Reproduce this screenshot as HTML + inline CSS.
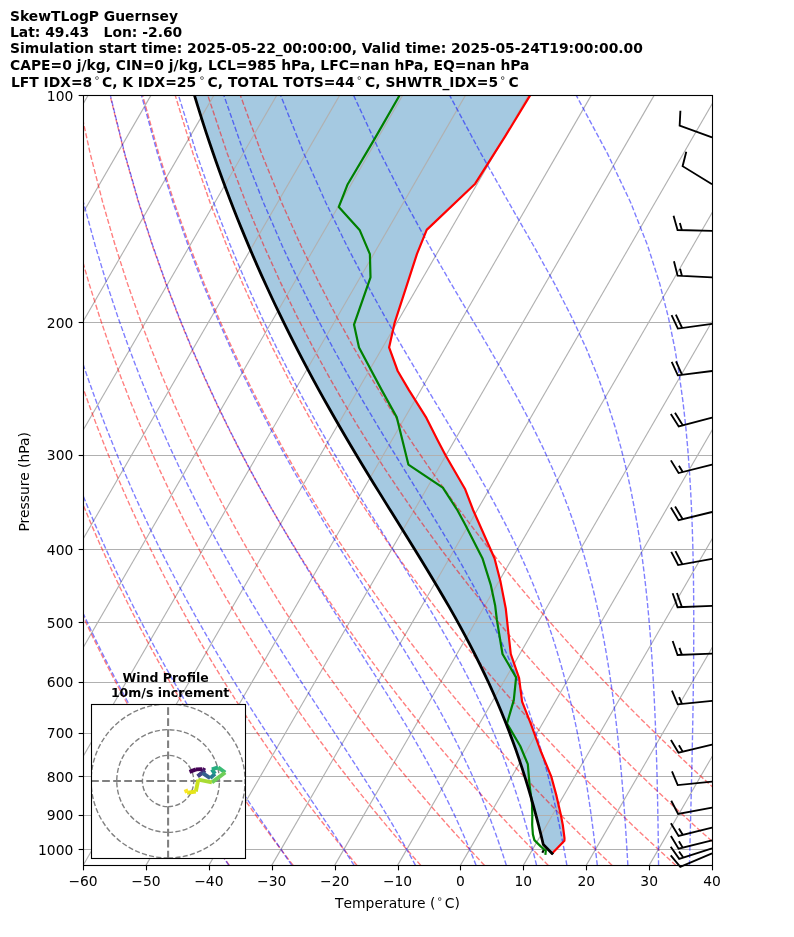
<!DOCTYPE html>
<html><head><meta charset="utf-8"><title>SkewTLogP Guernsey</title>
<style>
html,body{margin:0;padding:0;background:#fff;}
svg{display:block;}
text{font-family:"DejaVu Sans", "Liberation Sans", sans-serif;fill:#000;}
.b{font-weight:bold;}
</style></head><body>
<svg width="794" height="937" viewBox="0 0 794 937">
<rect x="0" y="0" width="794" height="937" fill="#fff"/>
<defs><clipPath id="ax"><rect x="83.5" y="95.5" width="629.0" height="770.0"/></clipPath>
<clipPath id="hd"><rect x="91.5" y="704.5" width="154" height="154"/></clipPath></defs>

<text class="b" x="10" y="20.80" font-size="13.889" xml:space="preserve">SkewTLogP Guernsey</text>
<text class="b" x="10" y="37.25" font-size="13.889" xml:space="preserve">Lat: 49.43   Lon: -2.60</text>
<text class="b" x="10" y="52.95" font-size="13.889" xml:space="preserve">Simulation start time: 2025-05-22_00:00:00, Valid time: 2025-05-24T19:00:00.00</text>
<text class="b" x="10" y="70.05" font-size="13.889" xml:space="preserve">CAPE=0 j/kg, CIN=0 j/kg, LCL=985 hPa, LFC=nan hPa, EQ=nan hPa</text>
<text class="b" font-size="13.889" style="font-kerning:none"><tspan x="10.90" y="86.60">LFT IDX=8</tspan><tspan x="102.00" y="86.60">C, K IDX=25</tspan><tspan x="207.60" y="86.60">C, TOTAL TOTS=44</tspan><tspan x="365.10" y="86.60">C, SHWTR_IDX=5</tspan><tspan x="508.40" y="86.60">C</tspan><tspan x="97.00" y="80.60" font-weight="normal" font-size="9.72" text-anchor="middle">∘</tspan><tspan x="202.00" y="80.60" font-weight="normal" font-size="9.72" text-anchor="middle">∘</tspan><tspan x="359.30" y="80.60" font-weight="normal" font-size="9.72" text-anchor="middle">∘</tspan><tspan x="502.80" y="80.60" font-weight="normal" font-size="9.72" text-anchor="middle">∘</tspan></text>
<g clip-path="url(#ax)">
<path d="M552.10 853.40 L543.28 844.47 L541.01 834.99 L538.65 825.51 L536.19 816.03 L533.63 806.55 L530.96 797.06 L528.17 787.58 L525.27 778.10 L522.25 768.62 L519.10 759.14 L515.82 749.65 L512.40 740.17 L508.85 730.69 L505.15 721.21 L501.31 711.73 L497.32 702.24 L493.18 692.76 L488.89 683.28 L484.46 673.80 L479.87 664.32 L475.14 654.83 L470.26 645.35 L465.25 635.87 L460.11 626.39 L454.85 616.91 L449.47 607.42 L443.98 597.94 L438.40 588.46 L432.74 578.98 L427.00 569.50 L421.21 560.02 L415.37 550.53 L409.49 541.05 L403.60 531.57 L397.69 522.09 L391.78 512.61 L385.88 503.12 L380.00 493.64 L374.15 484.16 L368.33 474.68 L362.56 465.20 L356.84 455.71 L351.17 446.23 L345.56 436.75 L340.02 427.27 L334.54 417.79 L329.14 408.30 L323.81 398.82 L318.55 389.34 L313.37 379.86 L308.27 370.38 L303.24 360.89 L298.30 351.41 L293.44 341.93 L288.66 332.45 L283.96 322.97 L279.33 313.48 L274.79 304.00 L270.34 294.52 L265.96 285.04 L261.66 275.56 L257.44 266.07 L253.30 256.59 L249.23 247.11 L245.25 237.63 L241.34 228.15 L237.51 218.67 L233.76 209.18 L230.08 199.70 L226.48 190.22 L222.96 180.74 L219.50 171.26 L216.12 161.77 L212.82 152.29 L209.58 142.81 L206.42 133.33 L203.33 123.85 L200.31 114.36 L197.36 104.88 L194.48 95.40 L530.00 95.50 L505.60 135.70 L475.20 183.70 L426.70 229.90 L416.90 254.10 L394.70 322.60 L389.10 347.40 L397.70 371.00 L408.80 389.90 L426.40 417.90 L437.90 440.80 L445.80 455.80 L465.20 489.30 L473.10 510.00 L494.50 558.20 L500.50 581.60 L505.80 608.80 L508.10 630.00 L510.80 654.00 L519.10 678.20 L522.10 701.60 L530.50 722.80 L540.30 750.00 L551.20 776.30 L556.50 795.90 L561.00 815.60 L562.80 825.00 L564.50 838.20 L564.40 840.70 L552.10 853.40Z" fill="#1f77b4" fill-opacity="0.4" stroke="none"/>
<g stroke="#b0b0b0" stroke-width="1.11" fill="none">
<path d="M-420.15 865.4 L25.13 95.4"/>
<path d="M-357.25 865.4 L88.03 95.4"/>
<path d="M-294.35 865.4 L150.93 95.4"/>
<path d="M-231.45 865.4 L213.83 95.4"/>
<path d="M-168.55 865.4 L276.73 95.4"/>
<path d="M-105.65 865.4 L339.63 95.4"/>
<path d="M-42.75 865.4 L402.53 95.4"/>
<path d="M20.15 865.4 L465.43 95.4"/>
<path d="M83.05 865.4 L528.33 95.4"/>
<path d="M145.95 865.4 L591.23 95.4"/>
<path d="M208.85 865.4 L654.13 95.4"/>
<path d="M271.75 865.4 L717.03 95.4"/>
<path d="M334.65 865.4 L779.93 95.4"/>
<path d="M397.55 865.4 L842.83 95.4"/>
<path d="M460.45 865.4 L905.73 95.4"/>
<path d="M523.35 865.4 L968.63 95.4"/>
<path d="M586.25 865.4 L1031.53 95.4"/>
<path d="M649.15 865.4 L1094.43 95.4"/>
<path d="M712.05 865.4 L1157.33 95.4"/>
<path d="M83.5 95.50 L712.5 95.50"/>
<path d="M83.5 322.50 L712.5 322.50"/>
<path d="M83.5 455.50 L712.5 455.50"/>
<path d="M83.5 549.50 L712.5 549.50"/>
<path d="M83.5 622.50 L712.5 622.50"/>
<path d="M83.5 682.50 L712.5 682.50"/>
<path d="M83.5 733.50 L712.5 733.50"/>
<path d="M83.5 776.50 L712.5 776.50"/>
<path d="M83.5 815.50 L712.5 815.50"/>
<path d="M83.5 849.50 L712.5 849.50"/>
</g>
<g stroke="#ff0000" stroke-opacity="0.5" stroke-width="1.39" fill="none" stroke-dasharray="5.14 2.22">
<path d="M229.44 865.40 L225.07 859.30 L220.66 853.08 L216.21 846.74 L211.72 840.27 L207.19 833.68 L202.61 826.95 L197.99 820.08 L193.32 813.06 L188.60 805.89 L183.84 798.55 L179.03 791.05 L174.16 783.38 L169.25 775.51 L164.27 767.46 L159.25 759.20 L154.17 750.73 L149.02 742.03 L143.82 733.10 L138.56 723.92 L133.23 714.47 L127.84 704.74 L122.38 694.71 L116.85 684.36 L111.24 673.68 L105.57 662.64 L99.81 651.21 L93.98 639.37 L88.07 627.08 L82.07 614.32 L75.99 601.04 L69.82 587.19 L63.56 572.74 L57.20 557.62 L50.75 541.76 L44.20 525.10 L37.56 507.54 L30.81 488.99 L23.97 469.33 L17.03 448.41 L9.99 426.06 L2.87 402.07 L-4.32 376.19 L-11.58 348.08 L-18.86 317.33 L-26.13 283.40 L-33.32 245.53 L-40.31 202.71 L-46.92 153.43 L-52.81 95.40"/>
<path d="M293.22 865.40 L288.51 859.30 L283.76 853.08 L278.96 846.74 L274.12 840.27 L269.23 833.68 L264.29 826.95 L259.30 820.08 L254.26 813.06 L249.16 805.89 L244.01 798.55 L238.80 791.05 L233.54 783.38 L228.22 775.51 L222.83 767.46 L217.39 759.20 L211.88 750.73 L206.30 742.03 L200.65 733.10 L194.93 723.92 L189.14 714.47 L183.28 704.74 L177.33 694.71 L171.31 684.36 L165.20 673.68 L159.01 662.64 L152.72 651.21 L146.35 639.37 L139.88 627.08 L133.31 614.32 L126.63 601.04 L119.85 587.19 L112.97 572.74 L105.96 557.62 L98.84 541.76 L91.60 525.10 L84.24 507.54 L76.74 488.99 L69.12 469.33 L61.36 448.41 L53.47 426.06 L45.45 402.07 L37.30 376.19 L29.04 348.08 L20.68 317.33 L12.25 283.40 L3.82 245.53 L-4.54 202.71 L-12.65 153.43 L-20.23 95.40"/>
<path d="M357.00 865.40 L351.96 859.30 L346.86 853.08 L341.72 846.74 L336.52 840.27 L331.27 833.68 L325.97 826.95 L320.61 820.08 L315.19 813.06 L309.72 805.89 L304.18 798.55 L298.58 791.05 L292.92 783.38 L287.19 775.51 L281.39 767.46 L275.53 759.20 L269.59 750.73 L263.57 742.03 L257.48 733.10 L251.31 723.92 L245.06 714.47 L238.72 704.74 L232.29 694.71 L225.77 684.36 L219.16 673.68 L212.45 662.64 L205.63 651.21 L198.71 639.37 L191.69 627.08 L184.54 614.32 L177.28 601.04 L169.89 587.19 L162.38 572.74 L154.73 557.62 L146.94 541.76 L139.00 525.10 L130.91 507.54 L122.67 488.99 L114.26 469.33 L105.69 448.41 L96.94 426.06 L88.02 402.07 L78.92 376.19 L69.65 348.08 L60.22 317.33 L50.64 283.40 L40.95 245.53 L31.24 202.71 L21.62 153.43 L12.35 95.40"/>
<path d="M420.79 865.40 L415.40 859.30 L409.96 853.08 L404.47 846.74 L398.92 840.27 L393.31 833.68 L387.65 826.95 L381.92 820.08 L376.13 813.06 L370.27 805.89 L364.35 798.55 L358.36 791.05 L352.30 783.38 L346.16 775.51 L339.95 767.46 L333.66 759.20 L327.30 750.73 L320.85 742.03 L314.31 733.10 L307.69 723.92 L300.97 714.47 L294.16 704.74 L287.25 694.71 L280.24 684.36 L273.12 673.68 L265.89 662.64 L258.55 651.21 L251.08 639.37 L243.49 627.08 L235.78 614.32 L227.92 601.04 L219.93 587.19 L211.78 572.74 L203.49 557.62 L195.03 541.76 L186.40 525.10 L177.59 507.54 L168.60 488.99 L159.41 469.33 L150.02 448.41 L140.42 426.06 L130.59 402.07 L120.54 376.19 L110.26 348.08 L99.75 317.33 L89.02 283.40 L78.09 245.53 L67.02 202.71 L55.89 153.43 L44.93 95.40"/>
<path d="M484.57 865.40 L478.85 859.30 L473.06 853.08 L467.22 846.74 L461.32 840.27 L455.35 833.68 L449.32 826.95 L443.23 820.08 L437.06 813.06 L430.83 805.89 L424.52 798.55 L418.13 791.05 L411.67 783.38 L405.13 775.51 L398.51 767.46 L391.80 759.20 L385.01 750.73 L378.12 742.03 L371.14 733.10 L364.06 723.92 L356.88 714.47 L349.60 704.74 L342.21 694.71 L334.70 684.36 L327.08 673.68 L319.33 662.64 L311.46 651.21 L303.45 639.37 L295.30 627.08 L287.01 614.32 L278.57 601.04 L269.96 587.19 L261.19 572.74 L252.25 557.62 L243.12 541.76 L233.80 525.10 L224.27 507.54 L214.53 488.99 L204.56 469.33 L194.35 448.41 L183.89 426.06 L173.17 402.07 L162.17 376.19 L150.88 348.08 L139.29 317.33 L127.41 283.40 L115.23 245.53 L102.79 202.71 L90.16 153.43 L77.50 95.40"/>
<path d="M548.35 865.40 L542.29 859.30 L536.16 853.08 L529.98 846.74 L523.72 840.27 L517.40 833.68 L511.00 826.95 L504.54 820.08 L498.00 813.06 L491.38 805.89 L484.69 798.55 L477.91 791.05 L471.05 783.38 L464.11 775.51 L457.07 767.46 L449.94 759.20 L442.72 750.73 L435.39 742.03 L427.97 733.10 L420.44 723.92 L412.80 714.47 L405.04 704.74 L397.16 694.71 L389.16 684.36 L381.03 673.68 L372.77 662.64 L364.37 651.21 L355.82 639.37 L347.11 627.08 L338.25 614.32 L329.21 601.04 L320.00 587.19 L310.60 572.74 L301.01 557.62 L291.21 541.76 L281.19 525.10 L270.95 507.54 L260.45 488.99 L249.70 469.33 L238.68 448.41 L227.36 426.06 L215.74 402.07 L203.79 376.19 L191.49 348.08 L178.83 317.33 L165.79 283.40 L152.37 245.53 L138.57 202.71 L124.43 153.43 L110.08 95.40"/>
<path d="M612.13 865.40 L605.73 859.30 L599.27 853.08 L592.73 846.74 L586.12 840.27 L579.44 833.68 L572.68 826.95 L565.85 820.08 L558.93 813.06 L551.94 805.89 L544.86 798.55 L537.69 791.05 L530.43 783.38 L523.08 775.51 L515.63 767.46 L508.08 759.20 L500.43 750.73 L492.67 742.03 L484.80 733.10 L476.81 723.92 L468.71 714.47 L460.48 704.74 L452.12 694.71 L443.63 684.36 L434.99 673.68 L426.21 662.64 L417.28 651.21 L408.18 639.37 L398.92 627.08 L389.48 614.32 L379.86 601.04 L370.04 587.19 L360.01 572.74 L349.77 557.62 L339.30 541.76 L328.59 525.10 L317.62 507.54 L306.38 488.99 L294.85 469.33 L283.01 448.41 L270.84 426.06 L258.32 402.07 L245.41 376.19 L232.11 348.08 L218.37 317.33 L204.18 283.40 L189.51 245.53 L174.34 202.71 L158.70 153.43 L142.66 95.40"/>
<path d="M675.92 865.40 L669.18 859.30 L662.37 853.08 L655.48 846.74 L648.52 840.27 L641.48 833.68 L634.36 826.95 L627.16 820.08 L619.87 813.06 L612.49 805.89 L605.03 798.55 L597.46 791.05 L589.81 783.38 L582.05 775.51 L574.19 767.46 L566.22 759.20 L558.14 750.73 L549.94 742.03 L541.63 733.10 L533.19 723.92 L524.62 714.47 L515.92 704.74 L507.08 694.71 L498.09 684.36 L488.95 673.68 L479.65 662.64 L470.19 651.21 L460.55 639.37 L450.73 627.08 L440.72 614.32 L430.50 601.04 L420.07 587.19 L409.42 572.74 L398.53 557.62 L387.39 541.76 L375.99 525.10 L364.30 507.54 L352.31 488.99 L340.00 469.33 L327.34 448.41 L314.31 426.06 L300.89 402.07 L287.04 376.19 L272.72 348.08 L257.91 317.33 L242.57 283.40 L226.65 245.53 L210.12 202.71 L192.98 153.43 L175.24 95.40"/>
<path d="M739.70 865.40 L732.62 859.30 L725.47 853.08 L718.23 846.74 L710.92 840.27 L703.52 833.68 L696.04 826.95 L688.47 820.08 L680.81 813.06 L673.05 805.89 L665.20 798.55 L657.24 791.05 L649.18 783.38 L641.02 775.51 L632.75 767.46 L624.36 759.20 L615.85 750.73 L607.22 742.03 L598.46 733.10 L589.57 723.92 L580.54 714.47 L571.36 704.74 L562.04 694.71 L552.55 684.36 L542.91 673.68 L533.09 662.64 L523.10 651.21 L512.92 639.37 L502.54 627.08 L491.95 614.32 L481.15 601.04 L470.11 587.19 L458.83 572.74 L447.30 557.62 L435.49 541.76 L423.39 525.10 L410.98 507.54 L398.24 488.99 L385.14 469.33 L371.67 448.41 L357.79 426.06 L343.46 402.07 L328.66 376.19 L313.34 348.08 L297.45 317.33 L280.95 283.40 L263.79 245.53 L245.90 202.71 L227.25 153.43 L207.82 95.40"/>
<path d="M803.48 865.40 L796.07 859.30 L788.57 853.08 L780.99 846.74 L773.32 840.27 L765.56 833.68 L757.72 826.95 L749.78 820.08 L741.74 813.06 L733.60 805.89 L725.36 798.55 L717.02 791.05 L708.56 783.38 L699.99 775.51 L691.31 767.46 L682.50 759.20 L673.56 750.73 L664.49 742.03 L655.29 733.10 L645.94 723.92 L636.45 714.47 L626.80 704.74 L616.99 694.71 L607.02 684.36 L596.87 673.68 L586.53 662.64 L576.01 651.21 L565.28 639.37 L554.35 627.08 L543.19 614.32 L531.79 601.04 L520.15 587.19 L508.24 572.74 L496.06 557.62 L483.58 541.76 L470.78 525.10 L457.65 507.54 L444.17 488.99 L430.29 469.33 L416.00 448.41 L401.26 426.06 L386.04 402.07 L370.28 376.19 L353.95 348.08 L336.99 317.33 L319.34 283.40 L300.92 245.53 L281.67 202.71 L261.52 153.43 L240.40 95.40"/>
</g>
<g stroke="#0000ff" stroke-opacity="0.5" stroke-width="1.39" fill="none" stroke-dasharray="5.14 2.22">
<path d="M228.87 865.40 L224.74 859.30 L220.54 853.08 L216.29 846.74 L211.98 840.27 L207.61 833.68 L203.18 826.95 L198.70 820.08 L194.15 813.06 L189.54 805.89 L184.87 798.55 L180.14 791.05 L175.35 783.38 L170.50 775.51 L165.58 767.46 L160.61 759.20 L155.56 750.73 L150.45 742.03 L145.28 733.10 L140.03 723.92 L134.72 714.47 L129.34 704.74 L123.88 694.71 L118.35 684.36 L112.75 673.68 L107.07 662.64 L101.31 651.21 L95.47 639.37 L89.55 627.08 L83.54 614.32 L77.44 601.04 L71.25 587.19 L64.98 572.74 L58.60 557.62 L52.14 541.76 L45.57 525.10 L38.90 507.54 L32.14 488.99 L25.27 469.33 L18.31 448.41 L11.25 426.06 L4.10 402.07 L-3.12 376.19 L-10.41 348.08 L-17.72 317.33 L-25.03 283.40 L-32.25 245.53 L-39.28 202.71 L-45.93 153.43 L-51.87 95.40"/>
<path d="M291.85 865.40 L287.71 859.30 L283.48 853.08 L279.16 846.74 L274.77 840.27 L270.29 833.68 L265.74 826.95 L261.09 820.08 L256.37 813.06 L251.56 805.89 L246.67 798.55 L241.70 791.05 L236.64 783.38 L231.50 775.51 L226.28 767.46 L220.97 759.20 L215.57 750.73 L210.10 742.03 L204.53 733.10 L198.88 723.92 L193.14 714.47 L187.31 704.74 L181.40 694.71 L175.39 684.36 L169.28 673.68 L163.09 662.64 L156.79 651.21 L150.40 639.37 L143.90 627.08 L137.31 614.32 L130.60 601.04 L123.78 587.19 L116.85 572.74 L109.80 557.62 L102.63 541.76 L95.34 525.10 L87.92 507.54 L80.37 488.99 L72.68 469.33 L64.86 448.41 L56.90 426.06 L48.81 402.07 L40.59 376.19 L32.24 348.08 L23.80 317.33 L15.28 283.40 L6.75 245.53 L-1.71 202.71 L-9.94 153.43 L-17.66 95.40"/>
<path d="M354.12 865.40 L350.23 859.30 L346.25 853.08 L342.15 846.74 L337.94 840.27 L333.62 833.68 L329.19 826.95 L324.64 820.08 L319.98 813.06 L315.20 805.89 L310.30 798.55 L305.29 791.05 L300.15 783.38 L294.90 775.51 L289.53 767.46 L284.04 759.20 L278.43 750.73 L272.70 742.03 L266.85 733.10 L260.88 723.92 L254.79 714.47 L248.59 704.74 L242.26 694.71 L235.81 684.36 L229.24 673.68 L222.55 662.64 L215.73 651.21 L208.79 639.37 L201.72 627.08 L194.51 614.32 L187.18 601.04 L179.71 587.19 L172.09 572.74 L164.33 557.62 L156.43 541.76 L148.37 525.10 L140.14 507.54 L131.76 488.99 L123.20 469.33 L114.47 448.41 L105.55 426.06 L96.45 402.07 L87.17 376.19 L77.69 348.08 L68.05 317.33 L58.24 283.40 L48.31 245.53 L38.33 202.71 L28.41 153.43 L18.80 95.40"/>
<path d="M415.49 865.40 L412.21 859.30 L408.81 853.08 L405.29 846.74 L401.64 840.27 L397.86 833.68 L393.94 826.95 L389.88 820.08 L385.67 813.06 L381.31 805.89 L376.80 798.55 L372.13 791.05 L367.29 783.38 L362.30 775.51 L357.13 767.46 L351.80 759.20 L346.29 750.73 L340.61 742.03 L334.75 733.10 L328.72 723.92 L322.52 714.47 L316.13 704.74 L309.58 694.71 L302.84 684.36 L295.93 673.68 L288.84 662.64 L281.58 651.21 L274.14 639.37 L266.53 627.08 L258.74 614.32 L250.77 601.04 L242.62 587.19 L234.28 572.74 L225.77 557.62 L217.06 541.76 L208.15 525.10 L199.05 507.54 L189.73 488.99 L180.20 469.33 L170.44 448.41 L160.45 426.06 L150.22 402.07 L139.73 376.19 L128.99 348.08 L117.98 317.33 L106.72 283.40 L95.21 245.53 L83.51 202.71 L71.69 153.43 L59.95 95.40"/>
<path d="M476.14 865.40 L473.72 859.30 L471.20 853.08 L468.57 846.74 L465.82 840.27 L462.95 833.68 L459.94 826.95 L456.80 820.08 L453.52 813.06 L450.08 805.89 L446.48 798.55 L442.71 791.05 L438.76 783.38 L434.62 775.51 L430.28 767.46 L425.73 759.20 L420.97 750.73 L415.97 742.03 L410.75 733.10 L405.28 723.92 L399.56 714.47 L393.58 704.74 L387.34 694.71 L380.83 684.36 L374.04 673.68 L366.98 662.64 L359.64 651.21 L352.02 639.37 L344.12 627.08 L335.95 614.32 L327.50 601.04 L318.77 587.19 L309.77 572.74 L300.49 557.62 L290.94 541.76 L281.11 525.10 L271.01 507.54 L260.62 488.99 L249.94 469.33 L238.97 448.41 L227.68 426.06 L216.07 402.07 L204.13 376.19 L191.83 348.08 L179.17 317.33 L166.12 283.40 L152.69 245.53 L138.87 202.71 L124.73 153.43 L110.36 95.40"/>
<path d="M506.35 865.40 L504.40 859.30 L502.36 853.08 L500.23 846.74 L498.00 840.27 L495.66 833.68 L493.22 826.95 L490.65 820.08 L487.95 813.06 L485.12 805.89 L482.14 798.55 L479.01 791.05 L475.70 783.38 L472.22 775.51 L468.56 767.46 L464.68 759.20 L460.60 750.73 L456.28 742.03 L451.72 733.10 L446.91 723.92 L441.82 714.47 L436.45 704.74 L430.78 694.71 L424.80 684.36 L418.49 673.68 L411.84 662.64 L404.85 651.21 L397.51 639.37 L389.80 627.08 L381.73 614.32 L373.30 601.04 L364.50 587.19 L355.34 572.74 L345.81 557.62 L335.93 541.76 L325.69 525.10 L315.09 507.54 L304.13 488.99 L292.82 469.33 L281.15 448.41 L269.10 426.06 L256.67 402.07 L243.84 376.19 L230.60 348.08 L216.91 317.33 L202.77 283.40 L188.14 245.53 L173.03 202.71 L157.45 153.43 L141.47 95.40"/>
<path d="M536.58 865.40 L535.08 859.30 L533.53 853.08 L531.89 846.74 L530.18 840.27 L528.39 833.68 L526.51 826.95 L524.53 820.08 L522.45 813.06 L520.25 805.89 L517.94 798.55 L515.50 791.05 L512.92 783.38 L510.19 775.51 L507.30 767.46 L504.24 759.20 L500.98 750.73 L497.52 742.03 L493.84 733.10 L489.92 723.92 L485.74 714.47 L481.28 704.74 L476.52 694.71 L471.44 684.36 L466.02 673.68 L460.23 662.64 L454.04 651.21 L447.44 639.37 L440.40 627.08 L432.91 614.32 L424.95 601.04 L416.51 587.19 L407.57 572.74 L398.13 557.62 L388.20 541.76 L377.76 525.10 L366.84 507.54 L355.42 488.99 L343.52 469.33 L331.15 448.41 L318.29 426.06 L304.95 402.07 L291.11 376.19 L276.76 348.08 L261.88 317.33 L246.44 283.40 L230.40 245.53 L213.74 202.71 L196.45 153.43 L178.54 95.40"/>
<path d="M566.88 865.40 L565.82 859.30 L564.71 853.08 L563.54 846.74 L562.32 840.27 L561.05 833.68 L559.70 826.95 L558.29 820.08 L556.80 813.06 L555.23 805.89 L553.57 798.55 L551.81 791.05 L549.96 783.38 L547.99 775.51 L545.89 767.46 L543.67 759.20 L541.29 750.73 L538.76 742.03 L536.05 733.10 L533.15 723.92 L530.04 714.47 L526.70 704.74 L523.10 694.71 L519.22 684.36 L515.03 673.68 L510.51 662.64 L505.61 651.21 L500.30 639.37 L494.54 627.08 L488.29 614.32 L481.52 601.04 L474.17 587.19 L466.22 572.74 L457.62 557.62 L448.34 541.76 L438.36 525.10 L427.67 507.54 L416.26 488.99 L404.14 469.33 L391.30 448.41 L377.76 426.06 L363.54 402.07 L348.64 376.19 L333.06 348.08 L316.78 317.33 L299.79 283.40 L282.05 245.53 L263.51 202.71 L244.12 153.43 L223.86 95.40"/>
<path d="M597.30 865.40 L596.62 859.30 L595.91 853.08 L595.17 846.74 L594.39 840.27 L593.58 833.68 L592.72 826.95 L591.81 820.08 L590.86 813.06 L589.85 805.89 L588.78 798.55 L587.65 791.05 L586.46 783.38 L585.18 775.51 L583.83 767.46 L582.38 759.20 L580.84 750.73 L579.19 742.03 L577.42 733.10 L575.51 723.92 L573.46 714.47 L571.25 704.74 L568.85 694.71 L566.25 684.36 L563.43 673.68 L560.35 662.64 L556.98 651.21 L553.29 639.37 L549.24 627.08 L544.77 614.32 L539.85 601.04 L534.39 587.19 L528.35 572.74 L521.64 557.62 L514.19 541.76 L505.92 525.10 L496.74 507.54 L486.58 488.99 L475.38 469.33 L463.10 448.41 L449.70 426.06 L435.19 402.07 L419.59 376.19 L402.92 348.08 L385.21 317.33 L366.47 283.40 L346.69 245.53 L325.84 202.71 L303.86 153.43 L280.66 95.40"/>
<path d="M627.86 865.40 L627.52 859.30 L627.16 853.08 L626.78 846.74 L626.38 840.27 L625.96 833.68 L625.51 826.95 L625.04 820.08 L624.54 813.06 L624.02 805.89 L623.46 798.55 L622.86 791.05 L622.23 783.38 L621.55 775.51 L620.83 767.46 L620.05 759.20 L619.22 750.73 L618.33 742.03 L617.36 733.10 L616.32 723.92 L615.20 714.47 L613.97 704.74 L612.64 694.71 L611.19 684.36 L609.59 673.68 L607.85 662.64 L605.92 651.21 L603.80 639.37 L601.44 627.08 L598.82 614.32 L595.88 601.04 L592.59 587.19 L588.89 572.74 L584.69 557.62 L579.93 541.76 L574.49 525.10 L568.25 507.54 L561.09 488.99 L552.83 469.33 L543.30 448.41 L532.32 426.06 L519.71 402.07 L505.32 376.19 L489.07 348.08 L470.93 317.33 L450.94 283.40 L429.18 245.53 L405.71 202.71 L380.55 153.43 L353.63 95.40"/>
<path d="M658.57 865.40 L658.51 859.30 L658.43 853.08 L658.36 846.74 L658.27 840.27 L658.18 833.68 L658.07 826.95 L657.96 820.08 L657.84 813.06 L657.71 805.89 L657.56 798.55 L657.40 791.05 L657.22 783.38 L657.03 775.51 L656.82 767.46 L656.58 759.20 L656.32 750.73 L656.04 742.03 L655.72 733.10 L655.37 723.92 L654.98 714.47 L654.54 704.74 L654.06 694.71 L653.52 684.36 L652.91 673.68 L652.23 662.64 L651.47 651.21 L650.60 639.37 L649.62 627.08 L648.51 614.32 L647.24 601.04 L645.79 587.19 L644.12 572.74 L642.20 557.62 L639.96 541.76 L637.35 525.10 L634.27 507.54 L630.64 488.99 L626.31 469.33 L621.10 448.41 L614.81 426.06 L607.13 402.07 L597.70 376.19 L586.09 348.08 L571.81 317.33 L554.37 283.40 L533.42 245.53 L508.88 202.71 L480.88 153.43 L449.66 95.40"/>
<path d="M689.43 865.40 L689.59 859.30 L689.75 853.08 L689.91 846.74 L690.07 840.27 L690.24 833.68 L690.41 826.95 L690.59 820.08 L690.76 813.06 L690.94 805.89 L691.12 798.55 L691.30 791.05 L691.48 783.38 L691.67 775.51 L691.85 767.46 L692.03 759.20 L692.21 750.73 L692.39 742.03 L692.57 733.10 L692.74 723.92 L692.91 714.47 L693.07 704.74 L693.22 694.71 L693.36 684.36 L693.48 673.68 L693.59 662.64 L693.68 651.21 L693.74 639.37 L693.76 627.08 L693.75 614.32 L693.69 601.04 L693.57 587.19 L693.38 572.74 L693.09 557.62 L692.70 541.76 L692.17 525.10 L691.46 507.54 L690.53 488.99 L689.32 469.33 L687.74 448.41 L685.69 426.06 L683.01 402.07 L679.46 376.19 L674.75 348.08 L668.38 317.33 L659.67 283.40 L647.60 245.53 L630.73 202.71 L607.38 153.43 L576.26 95.40"/>
<path d="M720.41 865.40 L720.74 859.30 L721.09 853.08 L721.44 846.74 L721.80 840.27 L722.17 833.68 L722.56 826.95 L722.95 820.08 L723.35 813.06 L723.77 805.89 L724.20 798.55 L724.64 791.05 L725.09 783.38 L725.56 775.51 L726.04 767.46 L726.54 759.20 L727.05 750.73 L727.57 742.03 L728.12 733.10 L728.67 723.92 L729.25 714.47 L729.84 704.74 L730.45 694.71 L731.08 684.36 L731.73 673.68 L732.39 662.64 L733.08 651.21 L733.78 639.37 L734.51 627.08 L735.25 614.32 L736.01 601.04 L736.80 587.19 L737.59 572.74 L738.40 557.62 L739.22 541.76 L740.04 525.10 L740.86 507.54 L741.66 488.99 L742.44 469.33 L743.16 448.41 L743.81 426.06 L744.32 402.07 L744.64 376.19 L744.67 348.08 L744.24 317.33 L743.09 283.40 L740.80 245.53 L736.59 202.71 L729.03 153.43 L715.33 95.40"/>
<path d="M751.50 865.40 L751.97 859.30 L752.45 853.08 L752.95 846.74 L753.46 840.27 L753.99 833.68 L754.53 826.95 L755.09 820.08 L755.66 813.06 L756.26 805.89 L756.87 798.55 L757.50 791.05 L758.16 783.38 L758.83 775.51 L759.53 767.46 L760.26 759.20 L761.01 750.73 L761.78 742.03 L762.58 733.10 L763.42 723.92 L764.28 714.47 L765.18 704.74 L766.12 694.71 L767.09 684.36 L768.10 673.68 L769.15 662.64 L770.25 651.21 L771.40 639.37 L772.59 627.08 L773.85 614.32 L775.16 601.04 L776.53 587.19 L777.97 572.74 L779.49 557.62 L781.08 541.76 L782.76 525.10 L784.52 507.54 L786.39 488.99 L788.37 469.33 L790.46 448.41 L792.67 426.06 L795.01 402.07 L797.49 376.19 L800.12 348.08 L802.88 317.33 L805.75 283.40 L808.69 245.53 L811.58 202.71 L814.15 153.43 L815.76 95.40"/>
<path d="M782.70 865.40 L783.26 859.30 L783.84 853.08 L784.44 846.74 L785.06 840.27 L785.70 833.68 L786.36 826.95 L787.03 820.08 L787.73 813.06 L788.45 805.89 L789.20 798.55 L789.97 791.05 L790.77 783.38 L791.59 775.51 L792.45 767.46 L793.33 759.20 L794.25 750.73 L795.20 742.03 L796.18 733.10 L797.21 723.92 L798.28 714.47 L799.39 704.74 L800.54 694.71 L801.75 684.36 L803.01 673.68 L804.32 662.64 L805.70 651.21 L807.14 639.37 L808.65 627.08 L810.24 614.32 L811.91 601.04 L813.67 587.19 L815.53 572.74 L817.49 557.62 L819.57 541.76 L821.79 525.10 L824.14 507.54 L826.66 488.99 L829.36 469.33 L832.25 448.41 L835.38 426.06 L838.77 402.07 L842.46 376.19 L846.49 348.08 L850.94 317.33 L855.86 283.40 L861.37 245.53 L867.58 202.71 L874.65 153.43 L882.77 95.40"/>
</g>
<path d="M544.0 849.6 L542.3 852.8" stroke="#000" stroke-width="2.08" fill="none"/>
<path d="M552.10 853.40 L564.40 840.70 L564.50 838.20 L562.80 825.00 L561.00 815.60 L556.50 795.90 L551.20 776.30 L540.30 750.00 L530.50 722.80 L522.10 701.60 L519.10 678.20 L510.80 654.00 L508.10 630.00 L505.80 608.80 L500.50 581.60 L494.50 558.20 L473.10 510.00 L465.20 489.30 L445.80 455.80 L437.90 440.80 L426.40 417.90 L408.80 389.90 L397.70 371.00 L389.10 347.40 L394.70 322.60 L416.90 254.10 L426.70 229.90 L475.20 183.70 L505.60 135.70 L530.00 95.50" stroke="#ff0000" stroke-width="2.2" fill="none" stroke-linejoin="round" stroke-linecap="square"/>
<path d="M545.50 853.70 L545.80 850.80 L540.70 846.40 L534.40 840.10 L532.90 834.40 L532.20 825.00 L532.30 815.60 L532.00 803.50 L529.60 785.30 L527.80 764.20 L520.20 746.00 L507.00 723.50 L513.80 700.10 L516.10 677.40 L502.50 654.00 L496.90 620.00 L495.20 605.80 L490.70 584.60 L482.40 558.20 L465.00 524.20 L457.30 510.00 L442.80 487.60 L408.40 464.60 L396.80 417.40 L381.60 389.90 L359.00 347.40 L354.00 324.60 L370.50 277.30 L369.90 254.10 L359.60 229.90 L338.80 206.90 L347.70 184.20 L374.00 139.90 L399.50 95.50" stroke="#008000" stroke-width="2.2" fill="none" stroke-linejoin="round" stroke-linecap="square"/>
<path d="M552.10 853.40 L543.28 844.47 L541.01 834.99 L538.65 825.51 L536.19 816.03 L533.63 806.55 L530.96 797.06 L528.17 787.58 L525.27 778.10 L522.25 768.62 L519.10 759.14 L515.82 749.65 L512.40 740.17 L508.85 730.69 L505.15 721.21 L501.31 711.73 L497.32 702.24 L493.18 692.76 L488.89 683.28 L484.46 673.80 L479.87 664.32 L475.14 654.83 L470.26 645.35 L465.25 635.87 L460.11 626.39 L454.85 616.91 L449.47 607.42 L443.98 597.94 L438.40 588.46 L432.74 578.98 L427.00 569.50 L421.21 560.02 L415.37 550.53 L409.49 541.05 L403.60 531.57 L397.69 522.09 L391.78 512.61 L385.88 503.12 L380.00 493.64 L374.15 484.16 L368.33 474.68 L362.56 465.20 L356.84 455.71 L351.17 446.23 L345.56 436.75 L340.02 427.27 L334.54 417.79 L329.14 408.30 L323.81 398.82 L318.55 389.34 L313.37 379.86 L308.27 370.38 L303.24 360.89 L298.30 351.41 L293.44 341.93 L288.66 332.45 L283.96 322.97 L279.33 313.48 L274.79 304.00 L270.34 294.52 L265.96 285.04 L261.66 275.56 L257.44 266.07 L253.30 256.59 L249.23 247.11 L245.25 237.63 L241.34 228.15 L237.51 218.67 L233.76 209.18 L230.08 199.70 L226.48 190.22 L222.96 180.74 L219.50 171.26 L216.12 161.77 L212.82 152.29 L209.58 142.81 L206.42 133.33 L203.33 123.85 L200.31 114.36 L197.36 104.88 L194.48 95.40" stroke="#000" stroke-width="2.78" fill="none" stroke-linejoin="round" stroke-linecap="square"/>
</g>
<g stroke="#000" stroke-width="1.85" fill="none" stroke-linejoin="miter" stroke-miterlimit="10">
<path d="M712.05 137.40 L679.65 125.55 L680.40 110.76"/>
<path d="M712.05 184.20 L682.62 166.19 L686.27 151.84"/>
<path d="M712.05 230.90 L677.56 230.01 L673.54 215.76 M681.87 230.12 L679.86 223.00"/>
<path d="M712.05 277.40 L677.60 275.63 L673.95 261.28 M681.90 275.85 L680.08 268.67"/>
<path d="M712.05 323.80 L677.88 328.60 L671.58 315.20 M682.16 328.00 L675.85 314.60"/>
<path d="M712.05 371.00 L677.82 375.30 L671.71 361.82 M682.10 374.77 L675.99 361.28"/>
<path d="M712.05 417.60 L678.72 426.51 L670.83 413.97 M682.89 425.39 L675.00 412.86"/>
<path d="M712.05 464.60 L678.60 473.04 L670.89 460.39 M682.78 471.98 L678.93 465.66"/>
<path d="M712.05 512.00 L678.55 520.25 L670.91 507.56 M682.74 519.22 L675.10 506.53"/>
<path d="M712.05 558.80 L678.12 565.05 L671.25 551.93 M682.36 564.27 L675.49 551.15"/>
<path d="M712.05 605.80 L677.58 607.18 L672.63 593.22 M681.89 607.01 L676.94 593.05"/>
<path d="M712.05 653.70 L677.57 654.98 L672.67 641.01 M681.88 654.82 L679.43 647.83"/>
<path d="M712.05 700.90 L677.72 704.31 L671.96 690.67 M682.01 703.89 L679.13 697.07"/>
<path d="M712.05 744.60 L678.50 752.66 L670.94 739.93 M682.70 751.65 L678.92 745.29"/>
<path d="M712.05 781.70 L677.72 785.11 L671.96 771.47"/>
<path d="M712.05 807.60 L678.12 813.86 L671.25 800.74"/>
<path d="M712.05 827.60 L678.56 835.87 L670.91 823.19 M682.74 834.84 L678.92 828.50"/>
<path d="M712.05 840.40 L678.56 848.67 L670.91 835.99 M682.74 847.64 L678.92 841.30"/>
<path d="M712.05 848.40 L679.18 858.89 L670.71 846.75 M683.29 857.58 L679.05 851.51"/>
<path d="M712.05 853.30 L680.28 866.76 L670.73 855.44"/>
</g>
<rect x="83.5" y="95.5" width="629.0" height="770.0" fill="none" stroke="#000" stroke-width="1.11"/>
<g stroke="#000" stroke-width="1.11">
<path d="M78.64 95.50 L83.5 95.50"/>
<path d="M78.64 322.50 L83.5 322.50"/>
<path d="M78.64 455.50 L83.5 455.50"/>
<path d="M78.64 549.50 L83.5 549.50"/>
<path d="M78.64 622.50 L83.5 622.50"/>
<path d="M78.64 682.50 L83.5 682.50"/>
<path d="M78.64 733.50 L83.5 733.50"/>
<path d="M78.64 776.50 L83.5 776.50"/>
<path d="M78.64 815.50 L83.5 815.50"/>
<path d="M78.64 849.50 L83.5 849.50"/>
<path d="M83.50 865.5 L83.50 870.36"/>
<path d="M146.50 865.5 L146.50 870.36"/>
<path d="M209.50 865.5 L209.50 870.36"/>
<path d="M272.50 865.5 L272.50 870.36"/>
<path d="M335.50 865.5 L335.50 870.36"/>
<path d="M398.50 865.5 L398.50 870.36"/>
<path d="M460.50 865.5 L460.50 870.36"/>
<path d="M523.50 865.5 L523.50 870.36"/>
<path d="M586.50 865.5 L586.50 870.36"/>
<path d="M649.50 865.5 L649.50 870.36"/>
<path d="M712.50 865.5 L712.50 870.36"/>
</g>
<text x="73.33" y="100.68" font-size="13.889" text-anchor="end">100</text>
<text x="73.33" y="327.66" font-size="13.889" text-anchor="end">200</text>
<text x="73.33" y="460.44" font-size="13.889" text-anchor="end">300</text>
<text x="73.33" y="554.65" font-size="13.889" text-anchor="end">400</text>
<text x="73.33" y="627.72" font-size="13.889" text-anchor="end">500</text>
<text x="73.33" y="687.42" font-size="13.889" text-anchor="end">600</text>
<text x="73.33" y="737.90" font-size="13.889" text-anchor="end">700</text>
<text x="73.33" y="781.63" font-size="13.889" text-anchor="end">800</text>
<text x="73.33" y="820.20" font-size="13.889" text-anchor="end">900</text>
<text x="73.33" y="854.70" font-size="13.889" text-anchor="end">1000</text>
<text x="83.05" y="885.67" font-size="13.889" text-anchor="middle">−60</text>
<text x="145.95" y="885.67" font-size="13.889" text-anchor="middle">−50</text>
<text x="208.85" y="885.67" font-size="13.889" text-anchor="middle">−40</text>
<text x="271.75" y="885.67" font-size="13.889" text-anchor="middle">−30</text>
<text x="334.65" y="885.67" font-size="13.889" text-anchor="middle">−20</text>
<text x="397.55" y="885.67" font-size="13.889" text-anchor="middle">−10</text>
<text x="460.45" y="885.67" font-size="13.889" text-anchor="middle">0</text>
<text x="523.35" y="885.67" font-size="13.889" text-anchor="middle">10</text>
<text x="586.25" y="885.67" font-size="13.889" text-anchor="middle">20</text>
<text x="649.15" y="885.67" font-size="13.889" text-anchor="middle">30</text>
<text x="712.05" y="885.67" font-size="13.889" text-anchor="middle">40</text>
<text font-size="13.889" style="font-kerning:none"><tspan x="335.1" y="907.6">Temperature (</tspan><tspan x="439.9" y="901.6" font-size="9.72" text-anchor="middle">∘</tspan><tspan x="444.7" y="907.6">C)</tspan></text>
<text transform="translate(29.3 481.80) rotate(-90)" font-size="13.889" text-anchor="middle">Pressure (hPa)</text>
<rect x="91.5" y="704.5" width="154.0" height="154.0" fill="#fff"/>
<g clip-path="url(#hd)">
<g stroke="#808080" fill="none" stroke-width="1.39" stroke-dasharray="5.14 2.22">
<path d="M168.1 806.67 A25.67 25.67 0 0 0 168.1 755.33 A25.67 25.67 0 0 0 168.1 806.67"/>
<path d="M168.1 832.33 A51.33 51.33 0 0 0 168.1 729.67 A51.33 51.33 0 0 0 168.1 832.33"/>
<path d="M168.1 858.00 A77.00 77.00 0 0 0 168.1 704.00 A77.00 77.00 0 0 0 168.1 858.00"/>
</g>
<g stroke="#808080" fill="none" stroke-width="2.08" stroke-dasharray="7.71 3.33"><path d="M91.1 781.0 L245.5 781.0"/><path d="M168.1 858.5 L168.1 704.5"/></g>
<path d="M189.5 771.9 L196.0 769.4" stroke="#440154" stroke-width="3.9" fill="none"/>
<path d="M196.0 769.4 L202.3 769.1" stroke="#440154" stroke-width="3.9" fill="none"/>
<path d="M202.3 769.1 L205.1 770.5" stroke="#46085c" stroke-width="3.9" fill="none"/>
<path d="M205.1 770.5 L197.7 776.2" stroke="#472a7a" stroke-width="3.9" fill="none"/>
<path d="M197.7 776.2 L202.3 772.8" stroke="#414487" stroke-width="3.9" fill="none"/>
<path d="M202.3 772.8 L210.2 778.1" stroke="#355f8d" stroke-width="3.9" fill="none"/>
<path d="M210.2 778.1 L215.0 773.9" stroke="#287d8e" stroke-width="3.9" fill="none"/>
<path d="M215.0 773.9 L211.9 769.4" stroke="#1e9c89" stroke-width="3.9" fill="none"/>
<path d="M211.9 769.4 L218.1 767.4" stroke="#26ad81" stroke-width="3.9" fill="none"/>
<path d="M218.1 767.4 L225.2 772.5" stroke="#3bbb75" stroke-width="3.9" fill="none"/>
<path d="M225.2 772.5 L211.9 782.4" stroke="#6ece58" stroke-width="3.9" fill="none"/>
<path d="M211.9 782.4 L198.3 779.6" stroke="#a8db34" stroke-width="3.9" fill="none"/>
<path d="M198.3 779.6 L195.8 791.5" stroke="#cae11f" stroke-width="3.9" fill="none"/>
<path d="M195.8 791.5 L187.0 792.9" stroke="#e5e419" stroke-width="3.9" fill="none"/>
<path d="M187.0 792.9 L185.6 789.2" stroke="#fde725" stroke-width="3.9" fill="none"/>
</g>
<rect x="91.5" y="704.5" width="154.0" height="154.0" fill="none" stroke="#000" stroke-width="1.11"/>
<text class="b" x="165.6" y="682.0" font-size="12.5" text-anchor="middle">Wind Profile</text>
<text class="b" x="170.1" y="697.0" font-size="12.5" text-anchor="middle">10m/s increment</text>
</svg></body></html>
